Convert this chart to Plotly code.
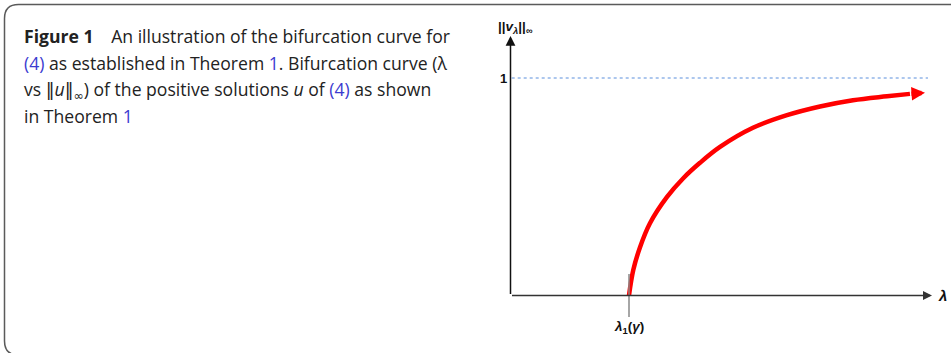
import plotly.graph_objects as go

# ---- data (λ, ||v_λ||∞) ----
lam = [1.000, 1.036, 1.093, 1.177, 1.321, 1.456, 1.599, 1.768, 2.046, 2.333, 2.612, 2.890, 3.177, 3.371]
vnorm = [0.000, 0.117, 0.222, 0.332, 0.453, 0.538, 0.610, 0.683, 0.771, 0.829, 0.869, 0.898, 0.916, 0.927]
arrow_tip = (3.498, 0.932)
lam1 = 1.0
asymptote = 1.0
x_axis_end = 3.557
y_axis_end = 1.193
dash_end = 3.523
tick_half = 0.099

NORM = "<span style='font-family:DejaVu Sans'>‖</span>"
caption_lines = [
    "<b>Figure 1</b>\u2003An illustration of the bifurcation curve for",
    "<span style='color:#3b3bd0'>(4)</span> as established in Theorem <span style='color:#3b3bd0'>1</span>. Bifurcation curve (λ",
    f"vs {NORM}<i>u</i>{NORM}<sub><span style='font-family:DejaVu Sans'>∞</span></sub>) of the positive solutions <i>u</i> of <span style='color:#3b3bd0'>(4)</span> as shown",
    "in Theorem <span style='color:#3b3bd0'>1</span>",
]

W, H = 951, 353
fig = go.Figure()

fig.add_trace(go.Scatter(x=lam, y=vnorm, mode="lines",
                         line=dict(color="#ff0000", width=4.5, shape="spline", smoothing=1.0),
                         hoverinfo="skip", showlegend=False))

anns = []
# red arrowhead
anns.append(dict(x=arrow_tip[0], y=arrow_tip[1], ax=lam[-1], ay=vnorm[-1],
                 xref="x", yref="y", axref="x", ayref="y", text="",
                 showarrow=True, arrowhead=2, arrowsize=0.6, arrowwidth=4.5,
                 arrowcolor="#ff0000", standoff=0, startstandoff=0))
# axes arrows
anns.append(dict(x=x_axis_end, y=0, ax=0, ay=0, xref="x", yref="y", axref="x", ayref="y",
                 text="", showarrow=True, arrowhead=2, arrowsize=1.2, arrowwidth=1.5,
                 arrowcolor="#333333", standoff=0))
anns.append(dict(x=0, y=y_axis_end, ax=0, ay=0, xref="x", yref="y", axref="x", ayref="y",
                 text="", showarrow=True, arrowhead=2, arrowsize=1.3, arrowwidth=1.5,
                 arrowcolor="#111111", standoff=0))

chart_font = dict(family="Liberation Sans, Arial", color="#111111")
anns.append(dict(x=x_axis_end, y=0, xref="x", yref="y", text="<b><i>λ</i></b>",
                 showarrow=False, xanchor="left", xshift=4,
                 font=dict(size=15, **chart_font)))
anns.append(dict(x=0, y=asymptote, xref="x", yref="y", text="<b>1</b>",
                 showarrow=False, xanchor="right", xshift=-2,
                 font=dict(size=13, **chart_font)))
anns.append(dict(x=lam1, y=-tick_half, xref="x", yref="y",
                 text="<b><i>λ</i><sub>1</sub>(<i>γ</i>)</b>",
                 showarrow=False, yanchor="top", yshift=0,
                 font=dict(size=13.5, **chart_font)))
anns.append(dict(x=0, y=y_axis_end, xref="x", yref="y",
                 text="<b>||<i>v</i><sub><i>λ</i></sub>||<sub>∞</sub></b>",
                 showarrow=False, yanchor="bottom", xanchor="center", xshift=5, yshift=-2,
                 font=dict(size=13.5, **chart_font)))

# caption
for i, line in enumerate(caption_lines):
    anns.append(dict(x=22 / W, y=1 - (22 + i * 26.5) / H, xref="paper", yref="paper",
                     text=line, showarrow=False, xanchor="left", yanchor="top",
                     align="left", font=dict(family="Open Sans", size=17.6, color="#222222")))

shapes = []
# dashed asymptote
shapes.append(dict(type="line", x0=0.01, x1=dash_end, y0=asymptote, y1=asymptote,
                   xref="x", yref="y", line=dict(color="#5b8fdc", width=1, dash="dot")))
# tick at lambda_1
shapes.append(dict(type="line", x0=lam1, x1=lam1, y0=-tick_half, y1=tick_half,
                   xref="x", yref="y", line=dict(color="#888888", width=1.5)))
# rounded border box (paper coords)
def px(x): return x / W
def py(y): return 1 - y / H
L, T, R, B, r = 4.5, 4.5, 960, 355, 14
path = (f"M {px(R)},{py(T)} L {px(L + r)},{py(T)} Q {px(L)},{py(T)} {px(L)},{py(T + r)} "
        f"L {px(L)},{py(B - r)} Q {px(L)},{py(B)} {px(L + r)},{py(B)} L {px(R)},{py(B)}")
shapes.append(dict(type="path", path=path, xref="paper", yref="paper",
                   line=dict(color="#5a5a5a", width=1.5)))

x_lo, x_hi = -0.4, 3.6
y_lo, y_hi = -0.25, 1.2
x0p, sx = 510.5, 118.5
y0p, sy = 295.5, 217.5
fig.update_layout(
    width=W, height=H, margin=dict(l=0, r=0, t=0, b=0),
    paper_bgcolor="white", plot_bgcolor="white",
    xaxis=dict(range=[x_lo, x_hi], domain=[(x0p + x_lo * sx) / W, (x0p + x_hi * sx) / W],
               visible=False, fixedrange=True),
    yaxis=dict(range=[y_lo, y_hi], domain=[1 - (y0p - y_lo * sy) / H, 1 - (y0p - y_hi * sy) / H],
               visible=False, fixedrange=True),
    annotations=anns, shapes=shapes,
)
fig.write_html("out.html", config={"displayModeBar": False},
               post_script="document.body.style.margin='0';document.body.style.overflow='hidden';")
